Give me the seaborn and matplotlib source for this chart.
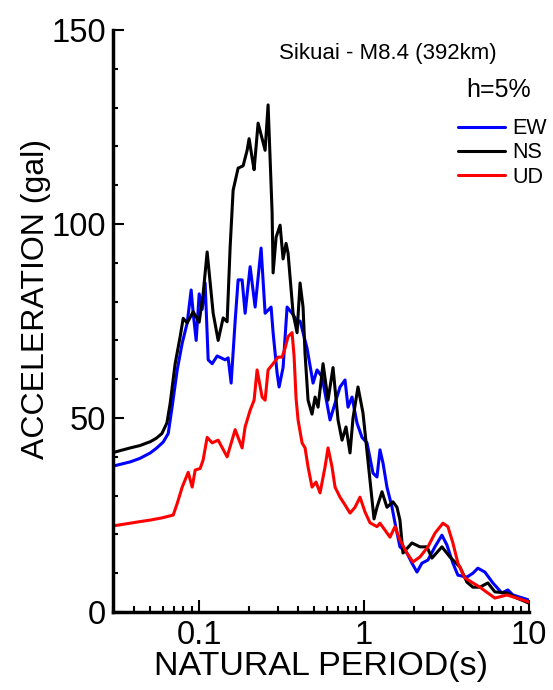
#!/usr/bin/env python3
import pandas as pd
import seaborn as sns
import matplotlib
matplotlib.use('Agg')
import matplotlib.pyplot as plt
from matplotlib.ticker import MultipleLocator

# acceleration response spectra
# period in seconds, acceleration in gal
ew_period = [0.030, 0.0382, 0.0437, 0.0505, 0.055, 0.0605, 0.0649, 0.0686, 0.0736, 0.0789, 0.0846, 0.0894,
             0.092, 0.0959, 0.100, 0.1043, 0.1087, 0.1134, 0.1199, 0.1286, 0.1438, 0.1499,
             0.1563, 0.1653, 0.1723, 0.1822, 0.190, 0.2038, 0.2185, 0.2375, 0.2512, 0.2731,
             0.2809, 0.297, 0.3054, 0.3229, 0.3415, 0.3661, 0.3926, 0.4094, 0.4513, 0.4908,
             0.519, 0.5566, 0.6222, 0.6672, 0.7154, 0.7671, 0.80, 0.846, 0.907, 0.9725,
             1.043, 1.134, 1.199, 1.250, 1.304, 1.378, 1.479, 1.541, 1.652, 1.822,
             1.954, 2.096, 2.247, 2.443, 2.693, 2.970, 3.184, 3.462, 3.713, 4.209,
             4.577, 4.908, 5.412, 6.051, 6.861, 7.46, 8.0, 10.0]
ew_accel = [37.6, 38.7, 39.6, 41.0, 42.2, 43.8, 46.0, 53.0, 62.4, 69.3, 74.5, 83.0,
            77.0, 70.0, 82.0, 78.0, 84.8, 65.0, 64.0, 66.0, 65.0, 65.5,
            59.0, 75.0, 85.6, 85.6, 77.0, 89.0, 78.6, 93.8, 77.0, 78.6,
            72.0, 61.6, 58.0, 63.0, 78.6, 77.0, 75.0, 75.0, 68.0, 59.0,
            62.4, 60.6, 49.5, 53.8, 58.0, 59.8, 52.8, 55.4, 48.7, 45.0,
            43.6, 35.8, 34.8, 41.8, 38.4, 32.2, 27.0, 23.0, 16.8, 15.2,
            12.6, 10.3, 12.6, 13.4, 16.8, 19.8, 17.3, 12.6, 9.5, 9.0,
            10.0, 11.3, 10.3, 7.5, 4.9, 5.7, 4.4, 3.1]

ns_period = [0.030, 0.0382, 0.0437, 0.0505, 0.055, 0.0594, 0.0637, 0.0667, 0.0715, 0.0767, 0.080, 0.0846,
             0.092, 0.100, 0.1057, 0.1118, 0.1216, 0.1304, 0.1398, 0.1478, 0.1541, 0.1607,
             0.1723, 0.1848, 0.1954, 0.2009, 0.2096, 0.2154, 0.2278, 0.2409, 0.2512, 0.2619,
             0.2693, 0.277, 0.2809, 0.2929, 0.3097, 0.3229, 0.3367, 0.3462, 0.3713, 0.3926,
             0.4094, 0.4268, 0.4389, 0.4577, 0.4839, 0.5047, 0.5263, 0.5644, 0.6051, 0.6488,
             0.6957, 0.7357, 0.7779, 0.8227, 0.8577, 0.9196, 0.986, 1.057, 1.15, 1.199,
             1.286, 1.378, 1.499, 1.585, 1.652, 1.723, 1.954, 2.185, 2.409, 2.583,
             2.970, 3.320, 3.818, 4.209, 4.577, 5.047, 5.644, 6.222, 7.357, 8.46,
             10.0]
ns_accel = [41.1, 42.3, 42.9, 43.9, 44.8, 46.0, 48.7, 53.8, 64.0, 71.0, 75.7, 74.5,
            77.4, 74.7, 82.0, 92.8, 77.0, 70.0, 75.8, 74.8, 94.0, 108.7,
            114.4, 115.0, 119.0, 122.0, 117.0, 114.0, 126.0, 122.0, 119.0, 130.7,
            117.0, 103.0, 87.4, 96.6, 99.7, 91.0, 95.0, 92.5, 77.0, 72.0,
            84.8, 78.6, 66.6, 54.6, 51.0, 55.4, 52.8, 64.0, 54.6, 63.0,
            49.5, 44.3, 47.7, 41.0, 50.0, 58.0, 51.3, 39.0, 24.0, 27.0,
            31.0, 27.0, 28.4, 27.0, 23.7, 15.2, 17.8, 16.8, 16.8, 13.9,
            16.8, 14.2, 11.6, 7.7, 6.4, 6.4, 7.5, 5.2, 4.9, 3.6,
            2.3]

ud_period = [0.030, 0.0382, 0.0437, 0.0505, 0.060, 0.0696, 0.0736, 0.0789, 0.0858, 0.0907, 0.0946, 0.1014,
             0.1057, 0.1118, 0.1199, 0.1304, 0.1478, 0.1653, 0.1822, 0.190, 0.2038, 0.2154,
             0.2246, 0.2409, 0.2512, 0.2619, 0.2809, 0.3012, 0.3184, 0.332, 0.3462, 0.3661,
             0.3765, 0.3872, 0.3981, 0.4209, 0.4389, 0.4577, 0.4839, 0.5118, 0.5412, 0.5803,
             0.6051, 0.6398, 0.6672, 0.7154, 0.7671, 0.8227, 0.882, 0.9458, 1.014, 1.087,
             1.199, 1.250, 1.438, 1.541, 1.652, 1.822, 1.982, 2.185, 2.443, 2.693,
             3.012, 3.229, 3.462, 3.713, 4.094, 4.577, 5.047, 5.644, 6.222, 7.357,
             8.46, 10.0]
ud_accel = [22.2, 22.9, 23.3, 23.7, 24.3, 25.0, 28.0, 32.2, 36.0, 32.2, 36.6, 37.0,
            39.2, 45.0, 43.6, 44.3, 40.0, 47.0, 42.3, 47.7, 52.0, 54.6,
            62.4, 55.4, 54.6, 62.4, 64.0, 65.7, 65.7, 68.0, 71.0, 72.0,
            66.0, 55.0, 49.5, 43.6, 42.3, 37.4, 32.2, 33.5, 30.7, 37.4,
            42.3, 37.4, 32.2, 29.6, 27.6, 25.5, 27.0, 29.6, 25.8, 23.0,
            22.0, 22.9, 19.3, 22.0, 18.6, 15.2, 12.9, 14.2, 16.8, 20.3,
            22.9, 22.0, 17.8, 12.6, 8.8, 7.5, 6.4, 4.9, 3.6, 4.4,
            3.6, 2.6]

components = ['EW', 'NS', 'UD']
line_colors = ['#0000ff', '#000000', '#ff0000']

x_ticks = [0.1, 1, 10]
x_tick_labels = ['0.1', '1', '10']
y_ticks = [0, 50, 100, 150]

event_text = 'Sikuai - M8.4 (392km)'
damping_text = 'h=5%'


def build_frame():
    """Stack the three components into one long table."""
    frames = []
    for comp, period, accel in zip(components,
                                   [ew_period, ns_period, ud_period],
                                   [ew_accel, ns_accel, ud_accel]):
        frames.append(pd.DataFrame({'period': period, 'accel': accel, 'comp': comp}))
    return pd.concat(frames, ignore_index=True)


def main():
    sns.set_style('ticks', {'axes.edgecolor': 'black', 'text.color': 'black',
                            'axes.labelcolor': 'black', 'xtick.color': 'black',
                            'ytick.color': 'black'})
    plt.rcParams['font.family'] = ['Liberation Sans', 'DejaVu Sans']

    spectra = build_frame()

    fig = plt.figure(figsize=(5.53, 6.90), dpi=100)
    ax = fig.add_axes([0.2043, 0.113, 0.752, 0.8435])

    sns.lineplot(data=spectra, x='period', y='accel', hue='comp',
                 palette=dict(zip(components, line_colors)),
                 estimator=None, linewidth=2.2, ax=ax)

    ax.set_xscale('log')
    ax.set_xlim(0.03, 10)
    ax.set_ylim(0, 150)
    ax.set_xticks(x_ticks, labels=x_tick_labels)
    ax.set_yticks(y_ticks)
    ax.yaxis.set_minor_locator(MultipleLocator(10))

    sns.despine(ax=ax)
    for side in ['left', 'bottom']:
        ax.spines[side].set_linewidth(2.5)
        ax.spines[side].set_color('black')

    ax.tick_params(axis='both', which='both', direction='in', width=1.5,
                   color='black', labelcolor='black', labelsize=23.5)
    ax.tick_params(axis='y', which='major', length=8, pad=5)
    ax.tick_params(axis='y', which='minor', length=3.8)
    ax.tick_params(axis='x', which='major', length=9, pad=6)
    ax.tick_params(axis='x', which='minor', length=4.5)

    ax.set_xlabel('NATURAL PERIOD(s)', fontsize=24.5, color='black')
    ax.set_ylabel('ACCELERATION (gal)', fontsize=23, color='black')
    ax.xaxis.set_label_coords(0.5, -0.067)
    ax.yaxis.set_label_coords(-0.150, 0.538)

    ax.text(0.662, 0.960, event_text, transform=ax.transAxes,
            ha='center', va='center', fontsize=16, color='black')
    ax.text(0.928, 0.897, damping_text, transform=ax.transAxes,
            ha='center', va='center', fontsize=18, color='black')

    handles, labels = ax.get_legend_handles_labels()
    leg = ax.legend(handles, labels, loc='upper left', bbox_to_anchor=(0.829, 0.848),
                    frameon=False, fontsize=15.5, handlelength=2.2, handletextpad=0.33,
                    labelspacing=0.14, borderpad=0, borderaxespad=0)
    for txt in leg.get_texts():
        txt.set_color('black')

    fig.savefig('out.png', dpi=100)


if __name__ == '__main__':
    main()
